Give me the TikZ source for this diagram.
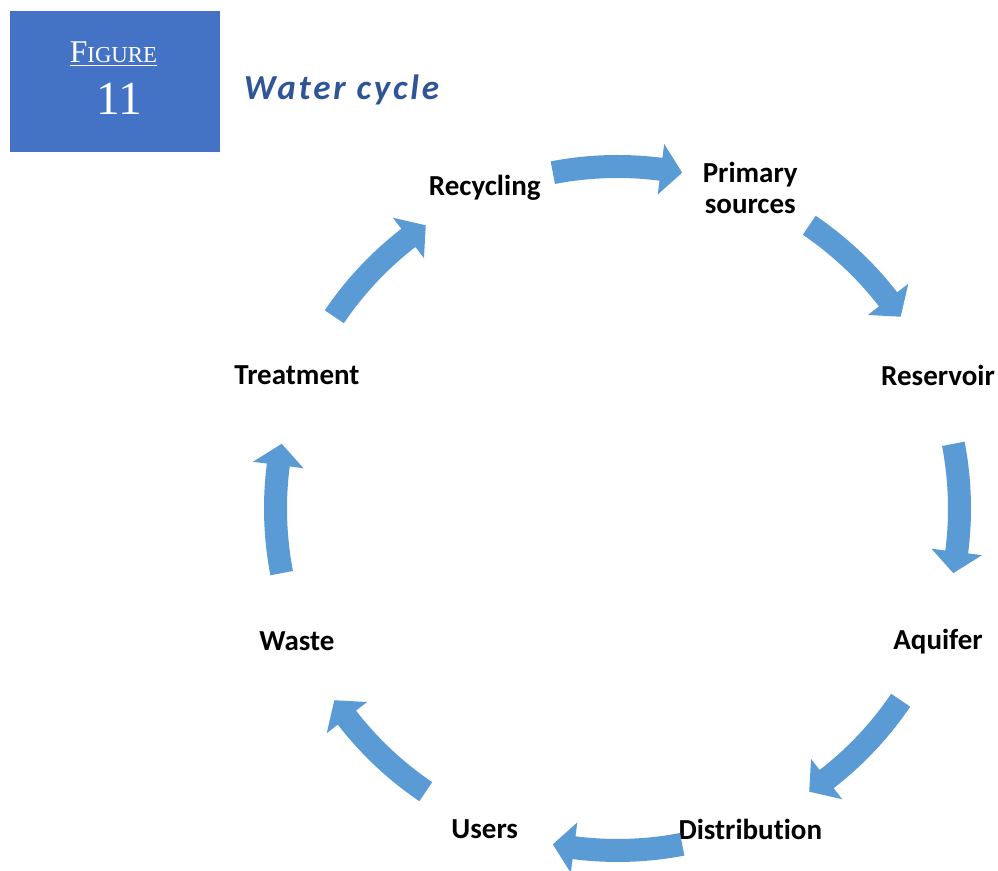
\documentclass[tikz,border=0pt]{standalone}
\usepackage{fontspec}
\setmainfont[Ligatures=NoCommon]{Carlito}
\newfontfamily\figserif{Liberation Serif}
\newfontfamily\titlefont[LetterSpace=8]{Carlito}
\usetikzlibrary{calc}
\definecolor{cyclearrow}{HTML}{5B9BD5}
\definecolor{figblue}{HTML}{4472C4}
\definecolor{titleblue}{HTML}{2F5597}
\def\cyclearrow(#1)(#2:#3){\fill[cyclearrow] ($(#1)+(#2:7.07)$) arc (#2:#3+3.6:7.07) -- ($(#1)+(#3+3.6:7.35)$) -- ($(#1)+(#3:6.84)$) -- ($(#1)+(#3+3.6:6.33)$) -- ($(#1)+(#3+3.6:6.61)$) arc (#3+3.6:#2:6.61) -- cycle;}
\tikzset{stage/.style={font=\fontsize{16.5}{18}\selectfont\bfseries, inner sep=0pt, align=center}}

\begin{document}
\begin{tikzpicture}
		%%%%% START %%%%%
		\useasboundingbox (0,0) rectangle (19.96,17.42);
		
		% figure tag and title
		\fill[figblue] (0.2,14.38) rectangle (4.4,17.2);
		\node[anchor=base, white, inner sep=0pt, font=\figserif\fontsize{18}{18}\selectfont] (figword) at (2.27,16.16) {\underline{F{\fontsize{13}{13}\selectfont IGURE}}};
		\node[anchor=base, white, inner sep=0pt, font=\figserif\fontsize{27}{27}\selectfont] (fignum) at (2.38,15.12) {11};
		\node[anchor=base, titleblue, inner sep=0pt, font=\titlefont\fontsize{20}{24}\selectfont\bfseries\itshape] (title) at (6.83,15.42) {Water cycle};
		
		% stages round the cycle
		\coordinate (C) at (12.35,7.25);
		\foreach \ang/\name/\txt in {112.5/recycling/Recycling, 67.5/primary/{Primary\\sources}, 22.5/reservoir/Reservoir, -22.5/aquifer/Aquifer, -67.5/distribution/{Distribu\kern0pt tion}, -112.5/users/Users, -157.5/waste/Waste, 157.5/treatment/Treatment}
			\node[stage] (\name) at ($(C)+(\ang:6.94)$) {\txt};
		
		% curved arrows
		\foreach \c [evaluate=\c as \tail using \c+10.9, evaluate=\c as \tip using \c-10.9] in {90,45,0,-45,-90,-135,-180,-225}
			\cyclearrow(C)(\tail:\tip);
		
		%%%%% END %%%%%
	\end{tikzpicture}
\end{document}
